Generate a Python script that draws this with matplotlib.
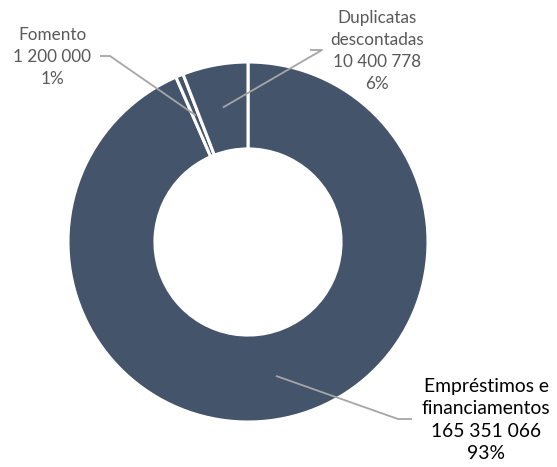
import numpy as np
import matplotlib.pyplot as plt

plt.rcParams['font.family'] = ['Lato', 'DejaVu Sans']

# Data
labels = ['Empréstimos e\nfinanciamentos', 'Fomento', 'Duplicatas\ndescontadas']
values = [165351066, 1200000, 10400778]

# label layout (pixel positions of text centre and leader elbow)
text_pos = [(486, 420), (52, 57), (377, 51)]
elbow_pos = [(398, 419), (110, 56), (322, 50)]
line_end = [(412, 419), (100, 56), (310, 50)]
text_colors = ['#000000', '#595959', '#595959']
text_sizes = [13.9, 12.3, 12.3]
spacings = [1.38, 1.45, 1.45]

W, H = 557, 467
cx, cy, R = 248, 242, 180

fig = plt.figure(figsize=(W / 100, H / 100), dpi=100)
ax = fig.add_axes([(cx - R) / W, (H - cy - R) / H, 2 * R / W, 2 * R / H])

wedges, _ = ax.pie(values, startangle=90, counterclock=False, radius=1,
                   colors=['#44546A'] * 3,
                   wedgeprops=dict(width=0.483, edgecolor='white', linewidth=2.2))
ax.set_xlim(-1, 1)
ax.set_ylim(-1, 1)
ax.set_aspect('equal')


def px2data(p):
    return ((p[0] - cx) / R, (cy - p[1]) / R)


total = sum(values)
for i, w in enumerate(wedges):
    ang = np.deg2rad((w.theta1 + w.theta2) / 2)
    r = 0.76
    anchor = (r * np.cos(ang), r * np.sin(ang))
    e = px2data(elbow_pos[i])
    le = px2data(line_end[i])
    ax.plot([anchor[0], e[0], le[0]], [anchor[1], e[1], le[1]],
            color='#A6A6A6', lw=1.3, clip_on=False, solid_capstyle='butt')
    pct = round(values[i] / total * 100)
    num = f'{values[i]:,}'.replace(',', ' ')
    tx, ty = px2data(text_pos[i])
    ax.text(tx, ty, f'{labels[i]}\n{num}\n{pct}%', ha='center', va='center',
            fontsize=text_sizes[i], color=text_colors[i],
            linespacing=spacings[i], clip_on=False)

fig.savefig('out.png', dpi=100)
